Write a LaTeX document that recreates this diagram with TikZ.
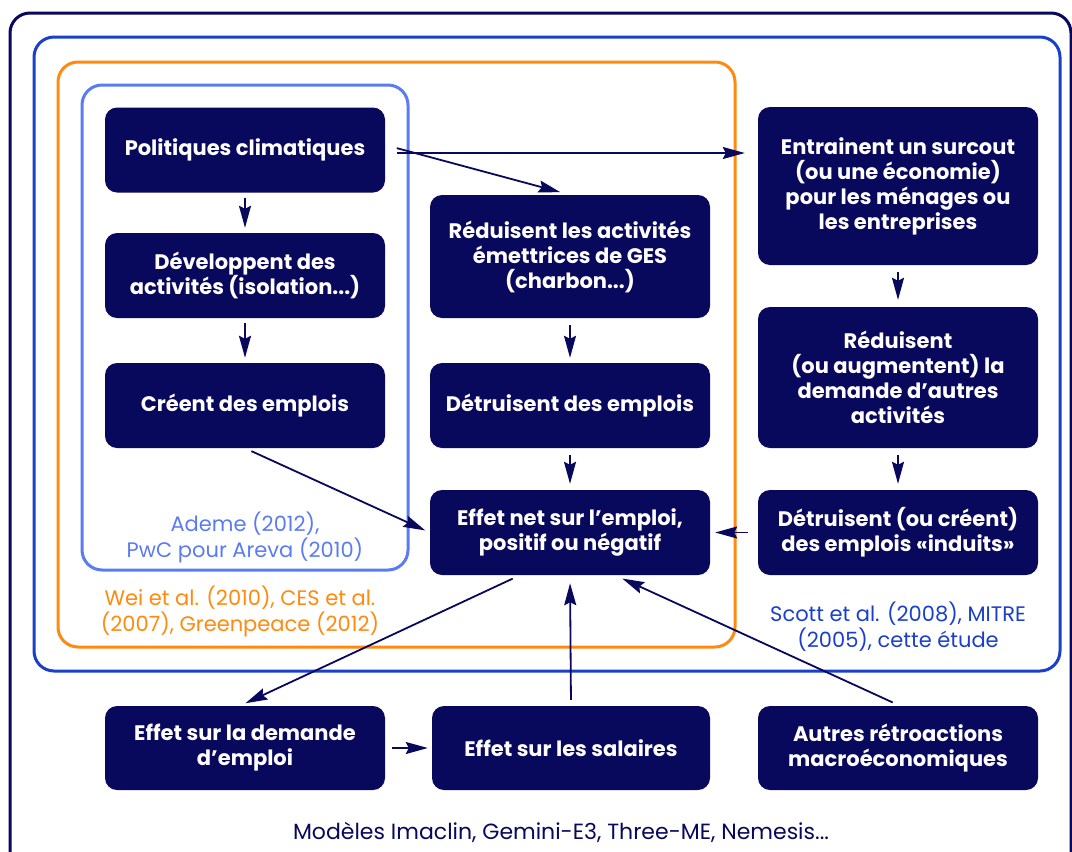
\documentclass[tikz,border=0pt]{standalone}
\usepackage{fontspec}
\setmainfont{Poppins}
\usetikzlibrary{arrows.meta}

\definecolor{navy}{HTML}{08085C}
\definecolor{royal}{HTML}{1A3FCC}
\definecolor{sky}{HTML}{5B7BF2}
\definecolor{amber}{HTML}{FF8A0D}

\begin{document}
\begin{tikzpicture}[x = 1pt, y = -1pt]
\tikzstyle{frameStyle} = [line width = 3pt, rounded corners = 20pt]
\tikzstyle{boxStyle} = [shape = rectangle, rounded corners = 12pt, fill = navy, text = white, align = center,
  minimum width = 280pt, minimum height = 85pt, inner sep = 0pt, font = \fontsize{21}{25}\selectfont\bfseries]
\tikzstyle{refStyle} = [align = center, font = \fontsize{21}{26}\selectfont]
\tikzstyle{arrowStyle} = [draw = navy, line width = 1.8pt, -{Stealth[length = 22pt, width = 12pt, inset = 3pt]}]
\useasboundingbox (0,0) rectangle (1072,852);
% frames
\draw[frameStyle, navy] (10,13) rectangle (1071,880);
\draw[frameStyle, royal] (34,37) rectangle (1060,671);
\draw[frameStyle, amber] (58,62) rectangle (735,647);
\draw[frameStyle, sky] (82,85) rectangle (408,570);
% boxes
\node[boxStyle] (pol) at (245,150) {Politiques climatiques};
\node[boxStyle] (dev) at (245,275.5) {Développent des\\activités (isolation...)};
\node[boxStyle] (cre) at (245,405.5) {Créent des emplois};
\node[boxStyle, minimum height = 123pt] (red) at (570,256.5) {Réduisent les activités\\émettrices de GES\\(charbon...)};
\node[boxStyle] (det) at (570,405.5) {Détruisent des emplois};
\node[boxStyle] (net) at (570,532.5) {Effet net sur l’emploi,\\positif ou négatif};
\node[boxStyle, minimum height = 158pt] (sur) at (898,186) {Entrainent un surcout\\(ou une économie)\\pour les ménages ou\\les entreprises};
\node[boxStyle, minimum height = 141pt] (aug) at (898,377.5) {Réduisent\\(ou augmentent) la\\demande d’autres\\activités};
\node[boxStyle] (ind) at (898,532.5) {Détruisent (ou créent)\\des emplois «induits»};
\node[boxStyle, minimum height = 84pt] (dem) at (245,748) {Effet sur la demande\\d’emploi};
\node[boxStyle, minimum height = 84pt, minimum width = 278pt] (sal) at (571,748) {Effet sur les salaires};
\node[boxStyle, minimum height = 84pt] (aut) at (898,748) {Autres rétroactions\\macroéconomiques};
% references
\node[refStyle, text = sky] (ademe) at (245,537) {Ademe (2012),\\PwC pour Areva (2010)};
\node[refStyle, text = amber] (wei) at (240,611) {Wei et al. (2010), CES et al.\\(2007), Greenpeace (2012)};
\node[refStyle, text = royal] (scott) at (898,627) {Scott et al. (2008), MITRE\\(2005), cette étude};
\node[refStyle, text = navy, font = \fontsize{22}{26}\selectfont] (models) at (561,832) {Modèles Imaclin, Gemini-E3, Three-ME, Nemesis...};
% arrows
\draw[arrowStyle, shorten < = 12pt, shorten > = 13pt] ([yshift = -3pt]pol.east) -- ([yshift = -3pt]pol.east -| sur.west);
\draw[arrowStyle, shorten < = 12pt, shorten > = 10pt] ([yshift = 5pt]pol.east) -- (red.north);
\draw[arrowStyle, shorten < = 5pt, shorten > = 5pt] (pol) -- (dev);
\draw[arrowStyle, shorten < = 5pt, shorten > = 5pt] (dev) -- (cre);
\draw[arrowStyle, shorten < = 7pt, shorten > = 5pt] (red) -- (det);
\draw[arrowStyle, shorten < = 7pt, shorten > = 6pt] (det) -- (net);
\draw[arrowStyle, shorten < = 7pt, shorten > = 5pt] (cre.south) -- (net.west);
\draw[arrowStyle, shorten < = 7pt, shorten > = 7pt] (sur) -- (aug);
\draw[arrowStyle, shorten < = 7pt, shorten > = 6pt] (aug) -- (ind);
\draw[arrowStyle, shorten < = 10pt, shorten > = 5pt] (ind.west) -- (net.east);
\draw[arrowStyle, shorten < = 8pt, shorten > = 6pt] ([xshift = -50pt]net.south) -- ([xshift = -5pt]dem.north);
\draw[arrowStyle, shorten < = 6pt, shorten > = 8pt] (sal.north) -- (net.south);
\draw[arrowStyle, shorten < = 8pt, shorten > = 8pt] ([xshift = 2pt]aut.north) -- ([xshift = 45pt]net.south);
\draw[arrowStyle, shorten < = 7pt, shorten > = 4pt] (dem.east) -- (sal.west);
\end{tikzpicture}
\end{document}
